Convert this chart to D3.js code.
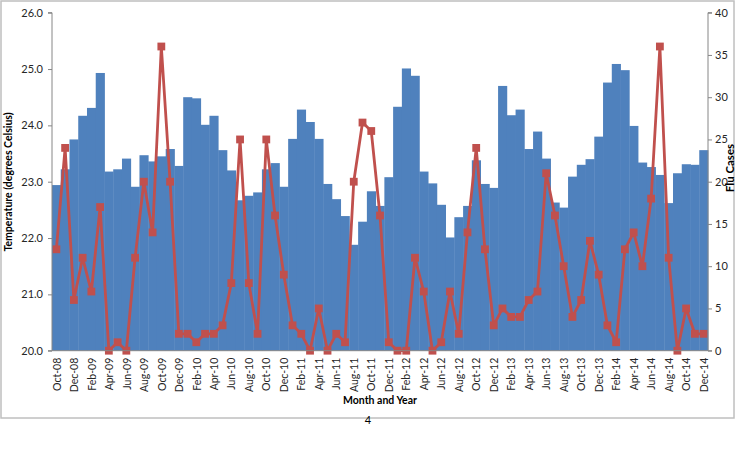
<!DOCTYPE html>
<html>
<head>
<meta charset="utf-8">
<script src="https://cdn.jsdelivr.net/npm/d3@7"></script>
<style>
  html, body { margin: 0; padding: 0; background: #fff; }
  svg { display: block; font-family: Lato, "Liberation Sans", Arial, sans-serif; }
</style>
</head>
<body>
<svg id="chart" width="736" height="452"></svg>
<script>
// ---- data ----
const monthNames = ["Jan","Feb","Mar","Apr","May","Jun","Jul","Aug","Sep","Oct","Nov","Dec"];
const startYear = 2008, startMonth = 9, monthCount = 75; // Oct-08 .. Dec-14
const months = d3.range(monthCount).map(i => {
  const m = (startMonth + i) % 12, y = startYear + Math.floor((startMonth + i) / 12);
  return monthNames[m] + "-" + String(y % 100).padStart(2, "0");
});
const temperature = [
  22.94, 23.22, 23.75, 24.17, 24.31, 24.93, 23.18, 23.22, 23.41, 22.91,
  23.47, 23.36, 23.45, 23.58, 23.28, 24.50, 24.48, 24.01, 24.17, 23.56,
  23.20, 22.67, 22.75, 22.81, 23.22, 23.33, 22.91, 23.76, 24.28, 24.06,
  23.76, 22.96, 22.69, 22.39, 21.88, 22.29, 22.83, 22.57, 23.08, 24.33,
  25.01, 24.88, 23.18, 22.97, 22.59, 22.01, 22.37, 22.57, 23.38, 22.96,
  22.89, 24.70, 24.18, 24.28, 23.58, 23.89, 23.41, 22.63, 22.54, 23.09,
  23.30, 23.40, 23.80, 24.76, 25.09, 24.98, 23.99, 23.34, 23.26, 23.12,
  22.62, 23.15, 23.31, 23.30, 23.56
];
const fluCases = [
  12, 24, 6, 11, 7, 17, 0, 1, 0, 11,
  20, 14, 36, 20, 2, 2, 1, 2, 2, 3,
  8, 25, 8, 2, 25, 16, 9, 3, 2, 0,
  5, 0, 2, 1, 20, 27, 26, 16, 1, 0,
  0, 11, 7, 0, 1, 7, 2, 14, 24, 12,
  3, 5, 4, 4, 6, 7, 21, 16, 10, 4,
  6, 13, 9, 3, 1, 12, 14, 10, 18, 36,
  11, 0, 5, 2, 2
];
const tempTicks = [20, 21, 22, 23, 24, 25, 26];
const fluTicks = [0, 5, 10, 15, 20, 25, 30, 35, 40];
const tickLabelMonths = months.filter((d, i) => i % 2 === 0);

// ---- layout ----
const svg = d3.select("#chart");
const L = 52, R = 708, T = 12.7, B = 350.7;
const barColor = "#4F81BD", lineColor = "#C0504D", axisColor = "#868686";

svg.append("rect").attr("x", 0).attr("y", 0).attr("width", 736).attr("height", 452).attr("fill", "#fff");
svg.append("rect").attr("x", 1).attr("y", 1).attr("width", 733).attr("height", 417)
  .attr("fill", "none").attr("stroke", "#BFBFBF").attr("stroke-width", 1.5);

const x = d3.scaleBand().domain(months).range([L, R]).paddingInner(0).paddingOuter(0);
const yT = d3.scaleLinear().domain([20, 26]).range([B, T]);
const yF = d3.scaleLinear().domain([0, 40]).range([B, T]);

// bars
svg.append("g").selectAll("rect").data(temperature).join("rect")
  .attr("x", (d, i) => x(months[i]))
  .attr("width", x.bandwidth() + 0.4)
  .attr("y", d => yT(d))
  .attr("height", d => yT(20) - yT(d))
  .attr("fill", barColor);

// line
const line = d3.line().x((d, i) => x(months[i]) + x.bandwidth() / 2).y(d => yF(d));
svg.append("path").datum(fluCases).attr("d", line)
  .attr("fill", "none").attr("stroke", lineColor).attr("stroke-width", 2.8).attr("stroke-linejoin", "round");
svg.append("g").selectAll("rect").data(fluCases).join("rect")
  .attr("x", (d, i) => x(months[i]) + x.bandwidth() / 2 - 3.9)
  .attr("y", d => yF(d) - 3.9)
  .attr("width", 7.8).attr("height", 7.8)
  .attr("fill", lineColor);

// left axis
const gL = svg.append("g").attr("transform", `translate(${L},0)`)
  .call(d3.axisLeft(yT).tickValues(tempTicks).tickFormat(d3.format(".1f")).tickSize(4).tickPadding(5));
// right axis
const gR = svg.append("g").attr("transform", `translate(${R},0)`)
  .call(d3.axisRight(yF).tickValues(fluTicks).tickSize(4).tickPadding(3));
[gL, gR].forEach(g => {
  g.select(".domain").attr("stroke", axisColor).attr("d", g === gL ? `M-4,${T}H0V${B}H-4` : `M4,${T}H0V${B}H4`);
  g.selectAll(".tick line").attr("stroke", axisColor);
  g.selectAll(".tick text").attr("fill", "#262626").style("font-size", "11px").style("font-family", "Lato, 'Liberation Sans', sans-serif");
});
// bottom axis line
svg.append("line").attr("x1", L).attr("x2", R).attr("y1", B).attr("y2", B).attr("stroke", axisColor);

// x labels
svg.append("g").selectAll("text").data(tickLabelMonths).join("text")
  .attr("transform", d => `translate(${x(d) + x.bandwidth() / 2 + 0.5},${B + 7}) rotate(-90)`)
  .attr("text-anchor", "end").attr("dy", "0.35em")
  .style("font-size", "10.5px").attr("fill", "#262626")
  .text(d => d);

// axis titles
svg.append("text").attr("x", 380).attr("y", 404).attr("text-anchor", "middle")
  .style("font-size", "10.5px").style("font-weight", "bold").attr("fill", "#000").text("Month and Year");
svg.append("text").attr("transform", "translate(12,182) rotate(-90)").attr("text-anchor", "middle")
  .style("font-size", "10.5px").style("font-weight", "bold").attr("fill", "#000").text("Temperature (degrees Celsius)");
svg.append("text").attr("transform", "translate(734,168) rotate(-90)").attr("text-anchor", "middle")
  .style("font-size", "11.5px").style("font-weight", "bold").attr("fill", "#000").text("Flu Cases");

// page number
svg.append("text").attr("x", 368).attr("y", 424).attr("text-anchor", "middle")
  .style("font-size", "11px").attr("fill", "#000").text("4");
</script>
</body>
</html>
